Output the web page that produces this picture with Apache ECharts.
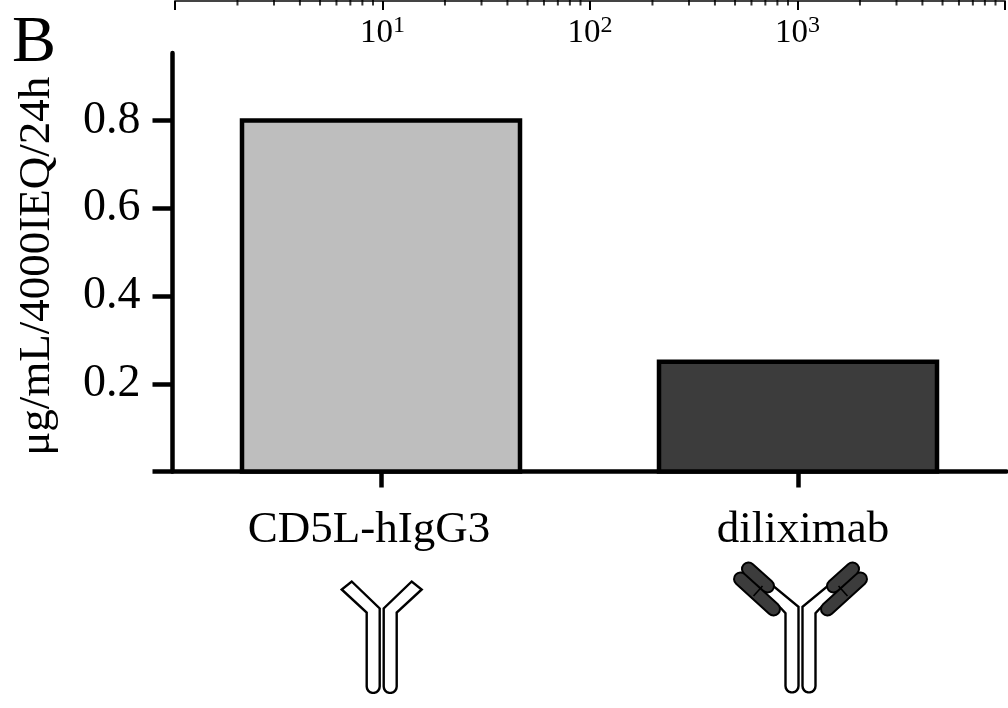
<!DOCTYPE html>
<html><head><meta charset="utf-8">
<style>html,body{margin:0;padding:0;background:#fff}#c{width:1008px;height:708px}</style>
<script src="https://cdn.jsdelivr.net/npm/echarts@6/dist/echarts.min.js"></script>
</head><body><div id="c"></div>
<script>
const categories = ['CD5L-hIgG3', 'diliximab'];
const values = [0.8, 0.25];
const barColors = ['#bebebe', '#3c3c3c'];
const yTicks = [0, 0.2, 0.4, 0.6, 0.8];
const yLabels = [0.2, 0.4, 0.6, 0.8];
const topMinor = [2,3,4,5,6,7,8,9,20,30,40,50,60,70,80,90,200,300,400,500,600,700,800,900,2000,3000,4000,5000,6000,7000,8000,9000];
const panel = 'B';
const yName = 'μg/mL/4000IEQ/24h';
const FONT = '"Liberation Serif","Times New Roman",serif';

const chart = echarts.init(document.getElementById('c'), null, {renderer:'canvas'});

function outline(pts, bottomY){
  const arc = [];
  for(let a=0;a<=180;a+=20){
    const r=a*Math.PI/180;
    arc.push([-8.5+6.5*Math.cos(r), bottomY+6.5*Math.sin(r)]);
  }
  return [pts[0], ...arc, ...pts.slice(1)];
}
function half(ab2){
  const kids = [];
  const pts = ab2
    ? outline([[-2,51.7],[-15,58.3],[-19.5,53.3],[-40,36],[-30.5,28.3]], 131)
    : outline([[-2,27],[-15,31],[-40,8],[-30,0]], 105);
  kids.push({type:'polygon', shape:{points:pts}, style:{fill:'#fff', stroke:'#000', lineWidth:2.4}});
  if(ab2){
    const a={x1:-52,y1:14,x2:-33,y2:31}, b={x1:-60,y1:24,x2:-27,y2:54};
    kids.push({type:'line', shape:a, style:{stroke:'#000',lineWidth:15,lineCap:'round'}});
    kids.push({type:'line', shape:b, style:{stroke:'#000',lineWidth:15,lineCap:'round'}});
    kids.push({type:'line', shape:a, style:{stroke:'#3c3c3c',lineWidth:11,lineCap:'round'}});
    kids.push({type:'line', shape:b, style:{stroke:'#3c3c3c',lineWidth:11,lineCap:'round'}});
    kids.push({type:'line', shape:{x1:-38,y1:31,x2:-47,y2:41}, style:{stroke:'#000',lineWidth:1.6}});
  }
  return kids;
}
function antibody(cx, top, ab2){
  return [
    {type:'group', x:cx, y:top, children:half(ab2)},
    {type:'group', x:cx, y:top, scaleX:-1, children:half(ab2)}
  ];
}

chart.setOption({
  animation:false,
  backgroundColor:'#fff',
  title:{text:panel, left:7, top:6, textStyle:{fontFamily:FONT,fontSize:66,fontWeight:'normal',color:'#000'}},
  grid:[
    {left:172.5, top:53, width:834, height:418.5},
    {left:175, top:1, width:838, height:40}
  ],
  xAxis:[
    {type:'category', gridIndex:0,
     data:[{value:categories[0],textStyle:{padding:[0,24,0,0]}},{value:categories[1],textStyle:{padding:[0,0,0,10]}}],
     axisLine:{onZero:false,lineStyle:{color:'#000',width:4.5}},
     axisTick:{show:true,alignWithLabel:true,length:16,lineStyle:{color:'#000',width:4.5}},
     axisLabel:{fontFamily:FONT,fontSize:45,color:'#000',margin:36}},
    {type:'log', logBase:10, gridIndex:1, position:'top', min:1, max:10000,
     axisLine:{onZero:false,lineStyle:{color:'#444',width:2}},
     axisTick:{inside:true,length:9,lineStyle:{color:'#000',width:2}},
     minorTick:{show:false},
     splitLine:{show:false},
     axisLabel:{inside:true, margin:13, color:'#000',
       formatter:v=>{const e=Math.round(Math.log10(v));return (e<1||e>3)?'':'{a|10}{b|'+e+'}';},
       rich:{a:{fontFamily:FONT,fontSize:33,color:'#000'},b:{fontFamily:FONT,fontSize:24,color:'#000',padding:[0,0,15,0]}}}}
  ],
  yAxis:[
    {type:'value', gridIndex:0, min:0, max:0.954,
     axisLine:{show:true,onZero:false,lineStyle:{color:'#000',width:4.5}},
     axisTick:{show:true,length:20,customValues:yTicks,lineStyle:{color:'#000',width:4.5}},
     axisLabel:{customValues:yLabels,fontFamily:FONT,fontSize:46,color:'#000',margin:32,formatter:v=>v.toFixed(1)},
     splitLine:{show:false},
     name:yName, nameLocation:'middle', nameGap:113,
     nameTextStyle:{fontFamily:FONT,fontSize:45,color:'#000',padding:[0,8,0,0]}},
    {type:'value', gridIndex:1, show:false, min:0, max:1}
  ],
  series:[
    {type:'custom', xAxisIndex:0, yAxisIndex:0, silent:true,
     data:values.map((v,i)=>[i,v]),
     encode:{x:0,y:1},
     renderItem:(params,api)=>{
       const top=api.coord([api.value(0),api.value(1)]);
       const base=api.coord([api.value(0),0]);
       return {type:'rect',
         shape:{x:top[0]-139,y:top[1],width:278,height:base[1]-top[1]},
         style:{fill:barColors[params.dataIndex],stroke:'#000',lineWidth:4.5}};
     }},
    {type:'scatter', xAxisIndex:1, yAxisIndex:1, silent:true, symbol:'rect', symbolSize:[2,9],
     data:topMinor.map(v=>[v,1]), itemStyle:{color:'#000'}}
  ],
  graphic:[...antibody(381.7,581.5,false), ...antibody(800.5,555,true)]
});
</script></body></html>
